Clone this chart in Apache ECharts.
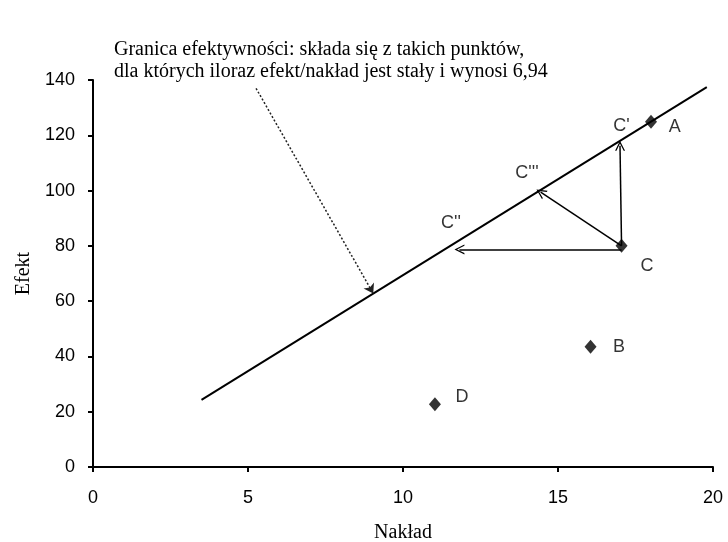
<!DOCTYPE html>
<html>
<head>
<meta charset="utf-8">
<script src="https://cdn.jsdelivr.net/npm/echarts@6/dist/echarts.min.js"></script>
<style>html,body{margin:0;padding:0;background:#fff}#chart{width:728px;height:542px}</style>
</head>
<body>
<div id="chart"></div>
<script>
// Data
const titleLines = ['Granica efektywności: składa się z takich punktów,', 'dla których iloraz efekt/nakład jest stały i wynosi 6,94'];
const xAxisName = 'Nakład';
const yAxisName = 'Efekt';
const pointNames = ['A', 'B', 'C', 'D'];
const pointX = [18, 16.05, 17.05, 11.03];
const pointY = [124.9, 43.5, 80, 22.7];
const frontierX = [3.5, 19.8];
const frontierY = [24.3, 137.4];
// Arrows from C toward the frontier
const arrowFromX = [17.05, 17.05, 17.05];
const arrowFromY = [78.7, 80, 80];
const arrowToX = [11.82, 17.0, 14.44];
const arrowToY = [78.7, 116.2, 99.4];
// Dotted pointer arrow for annotation
const pointerFrom = [5.26, 137.0];
const pointerTo = [9.04, 62.8];
// Text labels inside plot
const labelNames = ['A', 'B', 'C', 'D', "C'", "C'''", "C''"];
const labelX = [18.77, 16.97, 17.87, 11.9, 17.05, 14.0, 11.55];
const labelY = [123.0, 43.4, 72.7, 25.3, 123.4, 106.5, 88.3];

const chart = echarts.init(document.getElementById('chart'));
const arrowData = arrowFromX.map((x, i) => ({ coords: [[x, arrowFromY[i]], [arrowToX[i], arrowToY[i]]] }));
const chevron = 'path://M5,0 L10,10 L8.6,10 L5,2.6 L1.4,10 L0,10 Z';
const serif = '"Liberation Serif", "Times New Roman", serif';
const sans = '"Liberation Sans", Arial, sans-serif';

chart.setOption({
  animation: false,
  graphic: [{
    type: 'text', left: 114, top: 39,
    style: { text: titleLines.join('\n'), font: '20px ' + serif, lineHeight: 22, fill: '#000' }
  }],
  grid: { left: 93, right: 15, top: 80, bottom: 75, containLabel: false, outerBoundsMode: 'none' },
  xAxis: {
    type: 'value', min: 0, max: 20, interval: 5,
    name: xAxisName, nameLocation: 'middle', nameGap: 56,
    nameTextStyle: { fontFamily: serif, fontSize: 20, color: '#000' },
    axisLine: { onZero: false, lineStyle: { color: '#000', width: 2 } },
    axisTick: { show: true, length: 5, lineStyle: { color: '#000', width: 2 } },
    axisLabel: { margin: 22, fontFamily: sans, fontSize: 18, color: '#000' },
    splitLine: { show: false }
  },
  yAxis: {
    type: 'value', min: 0, max: 140, interval: 20,
    name: yAxisName, nameLocation: 'middle', nameGap: 58,
    nameTextStyle: { fontFamily: serif, fontSize: 20, color: '#000' },
    axisLine: { show: true, lineStyle: { color: '#000', width: 2 } },
    axisTick: { show: true, length: 5, lineStyle: { color: '#000', width: 2 } },
    axisLabel: { margin: 18, fontFamily: sans, fontSize: 18, color: '#000' },
    splitLine: { show: false }
  },
  series: [
    {
      type: 'line', data: frontierX.map((x, i) => [x, frontierY[i]]),
      symbol: 'none', lineStyle: { color: '#000', width: 2 }, z: 3
    },
    {
      type: 'lines', coordinateSystem: 'cartesian2d', data: arrowData,
      symbol: ['none', chevron], symbolSize: [0, 10],
      lineStyle: { color: '#000', width: 1.5, opacity: 1 }, z: 4
    },
    {
      type: 'lines', coordinateSystem: 'cartesian2d', data: [{ coords: [pointerFrom, pointerTo] }],
      symbol: ['none', 'arrow'], symbolSize: [0, 9],
      lineStyle: { color: '#222', width: 1.5, type: [2, 2], opacity: 1 }, z: 4
    },
    {
      type: 'scatter', data: pointX.map((x, i) => [x, pointY[i], pointNames[i]]),
      symbol: 'diamond', symbolSize: [12, 14], itemStyle: { color: '#000' }, z: 5
    },
    {
      type: 'scatter', data: labelX.map((x, i) => [x, labelY[i], labelNames[i]]),
      symbolSize: 0, silent: true,
      label: {
        show: true, position: 'inside', formatter: p => p.data[2],
        fontFamily: sans, fontSize: 18, color: '#000'
      }, z: 6
    }
  ]
});
</script>
</body>
</html>
